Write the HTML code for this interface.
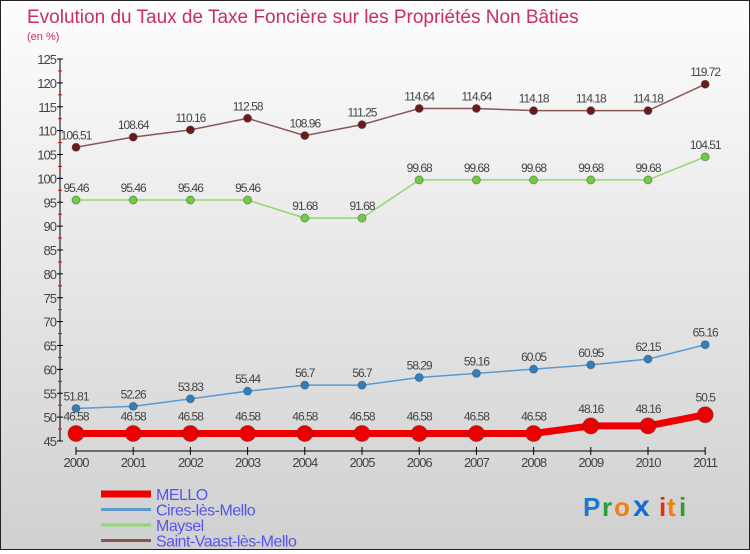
<!DOCTYPE html>
<html><head><meta charset="utf-8"><style>
html,body{margin:0;padding:0}
body{width:750px;height:550px;overflow:hidden;font-family:"Liberation Sans",sans-serif}
#wrap{position:relative;width:748px;height:548px;border:1px solid #222;background:linear-gradient(#fdfdfd,#d0d0d0)}
</style></head><body>
<div id="wrap">
<svg id="chart" width="748" height="548">
<text x="26" y="22" font-size="19" fill="#c8305a">Evolution du Taux de Taxe Foncière sur les Propriétés Non Bâties</text>
<text x="26" y="39" font-size="11" fill="#c8305a">(en %)</text>
<g id="axes"></g><g id="series"></g><g id="legend"></g>
<g font-size="26" font-weight="bold" font-family="Liberation Sans, sans-serif">
<text x="582" y="515" fill="#1a78d0">P</text><text x="601" y="515" fill="#2a9a3a">r</text><text x="613" y="515" fill="#f08010">o</text><text x="632" y="515" fill="#1a6ad0" font-size="30">x</text><text x="658" y="515" fill="#e03010">i</text><text x="666" y="515" fill="#f08010">t</text><text x="678" y="515" fill="#2a9a3a">i</text>
</g>
</svg></div>
<script>
const years=[2000,2001,2002,2003,2004,2005,2006,2007,2008,2009,2010,2011];
const mello=[46.58,46.58,46.58,46.58,46.58,46.58,46.58,46.58,46.58,48.16,48.16,50.5];
const cires=[51.81,52.26,53.83,55.44,56.7,56.7,58.29,59.16,60.05,60.95,62.15,65.16];
const maysel=[95.46,95.46,95.46,95.46,91.68,91.68,99.68,99.68,99.68,99.68,99.68,104.51];
const stvaast=[106.51,108.64,110.16,112.58,108.96,111.25,114.64,114.64,114.18,114.18,114.18,119.72];
const yTicks=[45,50,55,60,65,70,75,80,85,90,95,100,105,110,115,120,125];
const NS="http://www.w3.org/2000/svg";
function X(i){return 75+i*57.2;}
function Y(v){return 440-(v-45)*4.775;}
function mk(t,a,p){const e=document.createElementNS(NS,t);for(const k in a)e.setAttribute(k,a[k]);p.appendChild(e);return e;}
const ax=document.getElementById('axes');
const yl=mk('line',{x1:59,y1:Y(125),x2:59,y2:Y(45),stroke:'#000'},ax);


yTicks.forEach(v=>{
 mk('line',{x1:56,y1:Y(v),x2:62,y2:Y(v),stroke:'#000'},ax);
 if(v<125) mk('line',{x1:57,y1:Y(v+2.5),x2:61,y2:Y(v+2.5),stroke:'#e00'},ax);
 const t=mk('text',{x:55,y:Y(v)+5,'text-anchor':'end','font-size':13,fill:'#444','letter-spacing':'-1'},ax);
 t.textContent=v;
 
 
});
const xl=mk('line',{x1:X(0),y1:450,x2:X(11),y2:450,stroke:'#000'},ax);


years.forEach((y,i)=>{
 mk('line',{x1:X(i),y1:446,x2:X(i),y2:454,stroke:'#000'},ax);
 const t=mk('text',{x:X(i),y:466,'text-anchor':'middle','font-size':13,fill:'#444','letter-spacing':'-1'},ax);
 t.textContent=y;
 
 
});
const sg=document.getElementById('series');
const series=[
 {n:'saint-vaast',d:stvaast,c:'#6a1a1a',lc:'#8a5555',w:1.5,r:4,lab:'Saint-Vaast-lès-Mello'},
 {n:'maysel',d:maysel,c:'#70cc40',lc:'#90d870',w:1.5,r:4,lab:'Maysel'},
 {n:'cires',d:cires,c:'#3080c0',lc:'#5a9ad0',w:1.5,r:4,lab:'Cires-lès-Mello'},
 {n:'mello',d:mello,c:'#ee0000',lc:'#ee0000',w:7,r:8,lab:'MELLO'}];
series.forEach(s=>{
 const g=mk('g',{},sg);
 
 
 const pl=mk('polyline',{points:s.d.map((v,i)=>X(i)+','+Y(v)).join(' '),fill:'none',stroke:s.lc,'stroke-width':s.w},g);
 
 
 s.d.forEach((v,i)=>{
  const c=mk('circle',{cx:X(i),cy:Y(v),r:s.r,fill:s.c,stroke:'#333','stroke-opacity':0.4},g);
  
  
  const t=mk('text',{x:X(i),y:Y(v)-(s.n==='mello'?13:8),'text-anchor':'middle','font-size':12,fill:'#444','letter-spacing':'-1'},g);
  t.textContent=v;
  
  
 });
});
const lg=document.getElementById('legend');
[...series].reverse().forEach((s,i)=>{
 const y=493+i*15.5;
 const g=mk('g',{},lg);
 
 
 mk('line',{x1:100,y1:y,x2:150,y2:y,stroke:s.lc,'stroke-width':s.n==='mello'?7:3},g);
 const t=mk('text',{x:155,y:y+6,'font-size':16,fill:'#5555ee','letter-spacing':'-0.5'},g);
 t.textContent=s.lab;
});
</script>
</body></html>
